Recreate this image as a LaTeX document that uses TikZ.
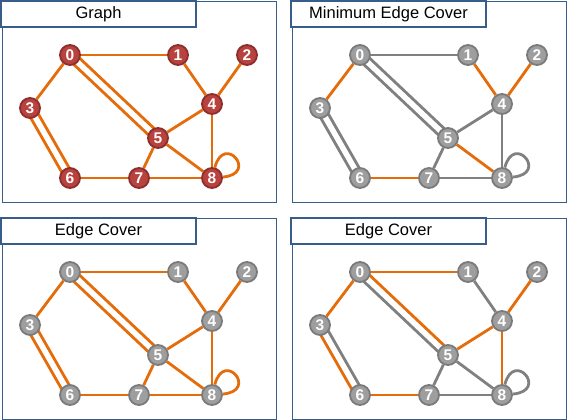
\documentclass[tikz,border=0pt]{standalone}
\usepackage{fontspec}
\setmainfont{Liberation Sans}
\usetikzlibrary{calc,backgrounds}
\definecolor{edgeorange}{RGB}{228,108,10}
\definecolor{edgegray}{RGB}{128,128,128}
\definecolor{frameblue}{RGB}{56,93,138}
\definecolor{vertred}{RGB}{184,66,62}
\definecolor{rimred}{RGB}{142,46,44}
\definecolor{vertgray}{RGB}{158,158,158}
\definecolor{rimgray}{RGB}{122,122,122}
\tikzstyle{vred}=[circle, draw=rimred, fill=vertred, line width=1.8pt, minimum size=20pt, inner sep=0pt, text=white, font=\fontsize{15.5}{16}\selectfont\bfseries]
\tikzstyle{vgray}=[circle, draw=rimgray, fill=vertgray, line width=1.8pt, minimum size=20pt, inner sep=0pt, text=white, font=\fontsize{15.5}{16}\selectfont\bfseries]
\tikzstyle{eo}=[draw=edgeorange, line width=2.8pt]
\tikzstyle{eg}=[draw=edgegray, line width=2.8pt]
\tikzstyle{panelframe}=[draw=frameblue, line width=1pt]
\tikzstyle{titlebox}=[rectangle, draw=frameblue, line width=2pt, fill=white, minimum width=195pt, minimum height=26pt, inner sep=0pt, font=\fontsize{16.5}{18}\selectfont]

% frame, title and vertices of one panel
\newcommand{\graphpanel}[5]{%
  \begin{scope}[shift={(#2,#3)}]
    \draw[panelframe] (2.5,1.5) rectangle (276.5,202);
    \node[titlebox] (#1title) at (98.5,14) {#4};
    \foreach \n/\x/\y in {0/70/55, 1/178/55, 2/247/55, 3/30/108, 4/212/104,
                          5/158/138, 6/70/178, 7/139/178, 8/212/178}
      \node[#5] (#1\n) at (\x,\y) {\n};
  \end{scope}}

% edges of one panel: simple edges, 0-5 (upper, lower), 3-6 (left, right), loop at 8
\newcommand{\graphedges}[7]{%
  \foreach \u/\v/\s in {#2}
    \draw[\s] (#1\u) -- (#1\v);
  \draw[#3] ($(#10)!4.3pt!90:(#15)$) -- ($(#15)!4.3pt!-90:(#10)$);
  \draw[#4] ($(#10)!4.3pt!-90:(#15)$) -- ($(#15)!4.3pt!90:(#10)$);
  \draw[#5] ($(#13)!4.3pt!-90:(#16)$) -- ($(#16)!4.3pt!90:(#13)$);
  \draw[#6] ($(#13)!4.3pt!90:(#16)$) -- ($(#16)!4.3pt!-90:(#13)$);
  \draw[#7] (#18) to[out=75, in=5, distance=36pt] (#18);}

\begin{document}
\begin{tikzpicture}[x=1pt, y=-1pt]
  \useasboundingbox (0,0) rectangle (568,420);
  % Panels
  \graphpanel{a}{0}{0}{Graph}{vred}
  \graphpanel{b}{290}{0}{Minimum Edge Cover}{vgray}
  \graphpanel{c}{0}{217}{Edge Cover}{vgray}
  \graphpanel{d}{290}{217}{Edge Cover}{vgray}
  % Edges
  \begin{scope}[on background layer]
    \graphedges{a}{0/1/eo, 0/3/eo, 1/4/eo, 2/4/eo, 4/5/eo, 4/8/eo, 5/7/eo, 5/8/eo, 6/7/eo, 7/8/eo}{eo}{eo}{eo}{eo}{eo}
    \graphedges{b}{0/1/eg, 0/3/eo, 1/4/eo, 2/4/eo, 4/5/eg, 4/8/eg, 5/7/eg, 5/8/eo, 6/7/eo, 7/8/eg}{eg}{eg}{eg}{eg}{eg}
    \graphedges{c}{0/1/eo, 0/3/eo, 1/4/eo, 2/4/eo, 4/5/eo, 4/8/eo, 5/7/eo, 5/8/eo, 6/7/eo, 7/8/eo}{eo}{eo}{eo}{eo}{eo}
    \graphedges{d}{0/1/eo, 0/3/eo, 1/4/eg, 2/4/eo, 4/5/eo, 4/8/eo, 5/7/eg, 5/8/eg, 6/7/eo, 7/8/eg}{eo}{eg}{eo}{eg}{eg}
  \end{scope}
\end{tikzpicture}
\end{document}
